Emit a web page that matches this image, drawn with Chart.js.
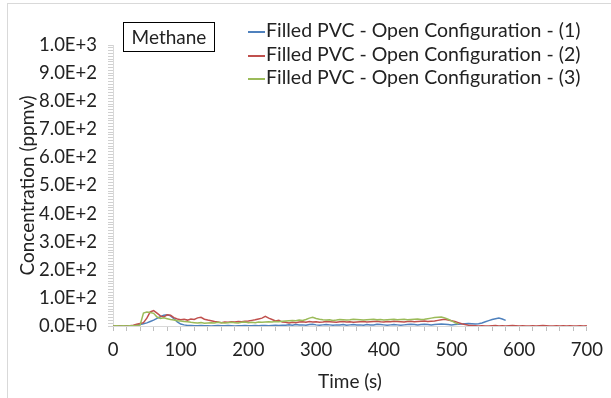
<!DOCTYPE html>
<html>
<head>
<meta charset="utf-8">
<script src="https://cdn.jsdelivr.net/npm/chart.js@4"></script>
<style>
  body { margin: 0; background: #fff; }
  #wrap { position: relative; width: 611px; height: 398px; font-family: Lato, sans-serif; color: #222; }
  #frame { position: absolute; left: 7px; top: 3px; right: 0; bottom: 0; border-left: 1px solid #d9d9d9; border-top: 1px solid #d9d9d9; }
  #title { position: absolute; left: 123px; top: 22px; width: 90px; height: 28px; border: 1.5px solid #000; font-size: 19px; line-height: 28px; text-align: center; }
  #legend { position: absolute; left: 248px; top: 18px; font-size: 19.5px; }
  .row { height: 23.5px; line-height: 23.5px; white-space: nowrap; }
  .sw { display: inline-block; width: 17px; height: 2px; vertical-align: middle; margin-right: 1px; }
</style>
</head>
<body>
<div id="wrap">
  <canvas id="chart" width="611" height="398"></canvas>
  <div id="frame"></div>
  <div id="title">Methane</div>
  <div id="legend"></div>
</div>
<script>
// temps (s)
const timeS = [
  0, 5, 10, 15, 20, 25, 30, 35, 40, 45, 50, 55, 60, 65, 70, 75, 80, 85, 90, 95,
  100, 105, 110, 115, 120, 125, 130, 135, 140, 145, 150, 155, 160, 165, 170, 175, 180, 185, 190, 195,
  200, 205, 210, 215, 220, 225, 230, 235, 240, 245, 250, 255, 260, 265, 270, 275, 280, 285, 290, 295,
  300, 305, 310, 315, 320, 325, 330, 335, 340, 345, 350, 355, 360, 365, 370, 375, 380, 385, 390, 395,
  400, 405, 410, 415, 420, 425, 430, 435, 440, 445, 450, 455, 460, 465, 470, 475, 480, 485, 490, 495,
  500, 505, 510, 515, 520, 525, 530, 535, 540, 545, 550, 555, 560, 565, 570, 575, 580, 585, 590, 595,
  600, 605, 610, 615, 620, 625, 630, 635, 640, 645, 650, 655, 660, 665, 670, 675, 680, 685, 690, 695,
  700
];

// concentrations (ppmv)
const run1 = [
  0, 0, 0, 0, 0, 1, 1,
  3, 5, 8, 11, 16, 21, 27, 33, 38, 40, 36, 26, 15, 7,
  4, 2, 2, 1, 1, 2, 1, 1, 0, 1, 2, 1, 1, 2, 1, 0, 1, 1, 2, 1, 1, 2, 1, 2, 2, 1, 2, 3, 2, 3,
  3, 4, 3, 5, 4, 4, 3, 5, 6, 4, 3, 4, 5, 4, 3, 4, 4, 5, 3, 4, 5, 4, 4, 3, 5, 4, 4, 6, 5, 4,
  3, 4, 5, 4, 3, 4, 5, 6, 5, 4, 5, 6, 5, 4, 5, 6, 7, 6, 5, 4, 5, 6, 7, 8,
  9, 8, 7, 8, 11, 15, 19, 23, 26, 28, 25, 20
];
const run2 = [
  0, 0, 0, 0, 0, 1,
  3, 6, 9, 12, 28, 50, 55, 46, 36, 32, 40, 38, 30, 25, 22,
  24, 21, 25, 23, 29, 31, 24, 21, 19, 16, 14, 12, 14, 13, 15, 14, 16, 15, 17, 18, 20, 22, 25, 28, 34, 28, 23, 18, 20, 14,
  13, 11, 13, 12, 14, 15, 13, 16, 14, 15, 13, 14, 16, 15, 14, 13, 15, 16, 14, 15, 13, 14, 15, 16, 14, 15, 16, 17, 15, 14,
  16, 15, 17, 16, 15, 14, 16, 17, 15, 16, 17, 18, 16, 17, 18, 20,
  22, 24, 21, 19, 16, 12, 8, 5, 3, 2,
  1, 0, 1, 0, 0, 1, 2, 0, 1, 0, 1, 2, 1, 0, 1, 0, 0, 1, 0, 1, 2, 1, 0, 0, 1, 0, 1, 0, 1, 0, 0, 1, 0, 1
];
const run3 = [
  0, 1, 0, 1, 0, 1, 1, 2, 3,
  46, 50, 48, 45, 32, 27, 29, 26, 23, 21, 19, 18, 16, 15, 13, 12, 11, 12, 10, 11,
  12, 11, 13, 12, 11, 12, 13, 12, 11, 13, 14, 12, 13, 12, 14, 13, 14, 15, 14, 16, 15, 17,
  18, 19, 20, 19, 21, 20, 23, 28, 31, 27, 24, 22, 21, 22, 20, 21, 23, 22, 21, 22, 24, 23, 22, 21,
  22, 23, 24, 22, 23, 21, 22, 23, 24, 22, 23, 24, 22, 23, 24, 25, 23, 24, 26, 28, 30, 31,
  32, 29, 24, 18, 12, 7
];

const seriesNames = [
  'Filled PVC - Open Configuration - (1)',
  'Filled PVC - Open Configuration - (2)',
  'Filled PVC - Open Configuration - (3)'
];
const seriesColors = ['#4f81bd', '#c0504d', '#9bbb59'];
const yTicks = [0, 100, 200, 300, 400, 500, 600, 700, 800, 900, 1000];
const xTicks = [0, 100, 200, 300, 400, 500, 600, 700];

function pts(vals) {
  return vals.map((v, i) => ({ x: timeS[i], y: v }));
}

const runs = [run1, run2, run3];

// légende HTML
const leg = document.getElementById('legend');
seriesNames.forEach((n, i) => {
  leg.innerHTML += '<div class="row"><span class="sw" style="background:' + seriesColors[i] + '"></span>' + n + '</div>';
});

new Chart(document.getElementById('chart'), {
  type: 'line',
  data: {
    datasets: runs.map((r, i) => ({
      label: seriesNames[i],
      data: pts(r),
      borderColor: seriesColors[i],
      backgroundColor: seriesColors[i],
      borderWidth: 1.5,
      pointRadius: 0,
      tension: 0,
      order: 3 - i
    }))
  },
  options: {
    responsive: false,
    animation: false,
    layout: { padding: { left: 0, right: 23, top: 45, bottom: 0 } },
    plugins: { legend: { display: false }, tooltip: { enabled: false } },
    scales: {
      x: {
        type: 'linear',
        min: 0, max: 700,
        afterFit: s => { s.height = 72; },
        afterBuildTicks: s => { s.ticks = []; for (let v = 0; v <= 700; v += 20) s.ticks.push({ value: v }); },
        grid: { drawOnChartArea: false, tickLength: 5, tickColor: '#bfbfbf' },
        border: { color: '#d9d9d9', width: 1 },
        ticks: {
          autoSkip: false, maxRotation: 0, padding: 8, color: '#222',
          font: { family: 'Lato', size: 18.5 },
          callback: v => xTicks.includes(v) ? String(v) : ''
        },
        title: { display: true, text: 'Time (s)', color: '#222', font: { family: 'Lato', size: 19 }, padding: { top: 0, bottom: 5 } }
      },
      y: {
        min: 0, max: 1000,
        afterFit: s => { s.width = 113; },
        afterBuildTicks: s => { s.ticks = []; for (let v = 0; v <= 1000; v += 10) s.ticks.push({ value: v }); },
        grid: { drawOnChartArea: false, tickLength: 5, tickColor: '#d0d0d0' },
        border: { color: '#d9d9d9', width: 1 },
        ticks: {
          autoSkip: false, padding: 11, color: '#222',
          font: { family: 'Lato', size: 18.5 },
          callback: v => yTicks.includes(v) ? v.toExponential(1).replace('e', 'E') : ''
        },
        title: { display: true, text: 'Concentration (ppmv)', color: '#222', font: { family: 'Lato', size: 19 }, padding: { top: 16, bottom: 0 } }
      }
    }
  }
});
</script>
</body>
</html>
